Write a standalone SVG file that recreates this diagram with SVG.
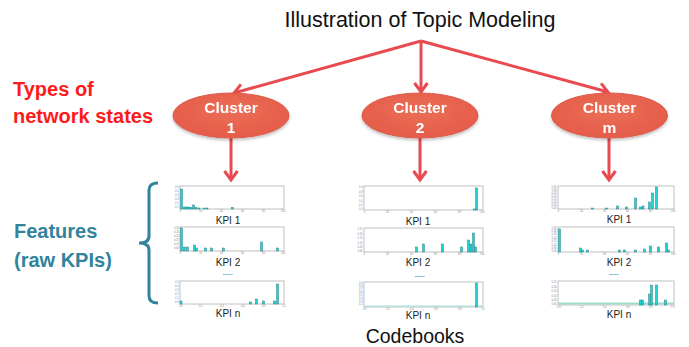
<svg xmlns="http://www.w3.org/2000/svg" width="689" height="347" viewBox="0 0 689 347">
<style>
.title{font-family:"Liberation Sans",Arial,sans-serif;font-size:21.5px;fill:#111;}
.side{font-family:"Liberation Sans",Arial,sans-serif;font-size:20px;font-weight:bold;}
.red{fill:#ff1a1a;}
.teal{fill:#31849b;}
.ctext{font-family:"Liberation Sans",Arial,sans-serif;font-size:15.5px;font-weight:bold;fill:#fff;text-anchor:middle;}
.kpi{font-family:"Liberation Sans",Arial,sans-serif;font-size:10px;fill:#222;text-anchor:middle;}
.tick{font-family:"Liberation Sans",Arial,sans-serif;font-size:2.6px;fill:#888;}
.frame{fill:#fff;stroke:#b0b0b0;stroke-width:0.8;}
.bars rect{fill:#1fd3d6;stroke:#2c8485;stroke-width:0.5;}
.conn{stroke:#e84a4f;stroke-width:3;fill:none;}
.dots{font-family:"Liberation Sans",Arial,sans-serif;font-size:6px;font-weight:bold;fill:#333;text-anchor:middle;letter-spacing:0.3px;}
</style>
<defs>
<marker id="ah" markerUnits="userSpaceOnUse" markerWidth="20" markerHeight="20" viewBox="-10 -10 20 20" refX="0" refY="0" orient="auto">
<path d="M-9,-6.5 L0,0 L-9,6.5" fill="none" stroke="#e84a4f" stroke-width="3" stroke-linejoin="miter"/>
</marker>
<radialGradient id="eg" cx="0.5" cy="0.4" r="0.6">
<stop offset="0" stop-color="#ec6e55"/>
<stop offset="1" stop-color="#e45c4a"/>
</radialGradient>
<filter id="sh" x="-20%" y="-20%" width="140%" height="150%">
<feDropShadow dx="0" dy="2" stdDeviation="1.5" flood-color="#000" flood-opacity="0.25"/>
</filter>
</defs>

<g id="title"><text class="title" x="420" y="27" text-anchor="middle">Illustration of Topic Modeling</text></g>

<g id="label-types">
<text class="side red" x="13" y="96">Types of</text>
<text class="side red" x="13" y="123">network states</text>
</g>
<g id="label-features">
<text class="side teal" x="14" y="238">Features</text>
<text class="side teal" x="14" y="267">(raw KPIs)</text>
</g>
<g id="brace">
<path d="M158,183 Q149,183 149,190 L149,236 Q149,243 139,243 Q149,243 149,250 L149,296 Q149,303 158,303" fill="none" stroke="#31849b" stroke-width="3"/>
</g>

<g id="connectors">
<line class="conn" x1="421" y1="41" x2="234" y2="93" marker-end="url(#ah)"/>
<line class="conn" x1="421" y1="41" x2="421" y2="92" marker-end="url(#ah)"/>
<line class="conn" x1="421" y1="41" x2="608" y2="92" marker-end="url(#ah)"/>
<line class="conn" x1="231" y1="138" x2="231" y2="180" marker-end="url(#ah)"/>
<line class="conn" x1="420" y1="138" x2="420" y2="180" marker-end="url(#ah)"/>
<line class="conn" x1="609" y1="138" x2="609" y2="180" marker-end="url(#ah)"/>
</g>

<g id="cluster1" filter="url(#sh)">
<ellipse cx="231" cy="115.5" rx="58" ry="22.5" fill="url(#eg)" stroke="#dd5a48"/>
<text class="ctext" x="231" y="113">Cluster</text>
<text class="ctext" x="231" y="133">1</text>
</g>
<g id="cluster2" filter="url(#sh)">
<ellipse cx="420" cy="115.5" rx="58" ry="22.5" fill="url(#eg)" stroke="#dd5a48"/>
<text class="ctext" x="420" y="113">Cluster</text>
<text class="ctext" x="420" y="133">2</text>
</g>
<g id="clusterm" filter="url(#sh)">
<ellipse cx="609.5" cy="115.5" rx="58" ry="22.5" fill="url(#eg)" stroke="#dd5a48"/>
<text class="ctext" x="609.5" y="113">Cluster</text>
<text class="ctext" x="609.5" y="133">m</text>
</g>

<!-- Column 1 -->
<g id="codebook1">
<g transform="translate(180,186)">
<rect class="frame" x="0" y="0" width="104" height="23"/>
<g class="bars">
<rect x="0.5" y="3" width="2" height="20"/><rect x="3.5" y="21" width="2" height="2"/><rect x="5.5" y="21" width="2" height="2"/><rect x="7.5" y="21" width="2" height="2"/><rect x="10" y="21.5" width="2" height="1.5"/><rect x="12.5" y="19" width="2" height="4"/><rect x="15" y="21.5" width="2" height="1.5"/><rect x="18" y="22" width="2" height="1"/><rect x="23" y="22" width="2" height="1"/><rect x="26" y="22" width="2" height="1"/><rect x="51.5" y="21.5" width="2" height="1.5"/>
</g>
<text class="tick" x="-5" y="2">0.6</text><text class="tick" x="-5" y="6">0.5</text><text class="tick" x="-5" y="10">0.4</text><text class="tick" x="-5" y="14">0.3</text><text class="tick" x="-5" y="18">0.2</text><text class="tick" x="-5" y="22">0.1</text>
<text class="tick" x="-0.5" y="25.8">0</text><text class="tick" x="19" y="25.8">20</text><text class="tick" x="40" y="25.8">40</text><text class="tick" x="61" y="25.8">60</text><text class="tick" x="82" y="25.8">80</text><text class="tick" x="101" y="25.8">100</text>
<text class="kpi" x="48" y="37.5">KPI 1</text>
</g>
<g transform="translate(180,227)">
<rect class="frame" x="0" y="0" width="104" height="24"/>
<g class="bars">
<rect x="0.5" y="1" width="2" height="23"/><rect x="3.5" y="20" width="2" height="4"/><rect x="6.5" y="20" width="2" height="4"/><rect x="13.5" y="18" width="2" height="6"/><rect x="15.5" y="21" width="2" height="3"/><rect x="24.5" y="21" width="2" height="3"/><rect x="30.5" y="21" width="2" height="3"/><rect x="42.5" y="21" width="2" height="3"/><rect x="80.5" y="15" width="2" height="9"/><rect x="96.5" y="21" width="2" height="3"/>
</g>
<text class="tick" x="-6" y="2">0.30</text><text class="tick" x="-6" y="6">0.25</text><text class="tick" x="-6" y="10">0.20</text><text class="tick" x="-6" y="14">0.15</text><text class="tick" x="-6" y="18">0.10</text><text class="tick" x="-6" y="22">0.05</text>
<text class="tick" x="-0.5" y="26.8">0</text><text class="tick" x="19" y="26.8">20</text><text class="tick" x="40" y="26.8">40</text><text class="tick" x="61" y="26.8">60</text><text class="tick" x="82" y="26.8">80</text><text class="tick" x="101" y="26.8">100</text>
<text class="kpi" x="48" y="38.5">KPI 2</text>
</g>
<text class="dots" x="228" y="275">.....</text>
<g transform="translate(180,281)">
<rect class="frame" x="0" y="0" width="104" height="23"/>
<g class="bars">
<rect x="0" y="20" width="2" height="3"/><rect x="69.5" y="21" width="2" height="2"/><rect x="75.5" y="18" width="2" height="5"/><rect x="82.5" y="20" width="2" height="3"/><rect x="93.5" y="20" width="2" height="3"/><rect x="96.5" y="3" width="2" height="20"/>
</g>
<text class="tick" x="-5" y="2">0.5</text><text class="tick" x="-5" y="6">0.4</text><text class="tick" x="-5" y="10">0.3</text><text class="tick" x="-5" y="14">0.2</text><text class="tick" x="-5" y="18">0.1</text><text class="tick" x="-5" y="22">0.0</text>
<text class="tick" x="-1" y="25.8">0.0</text><text class="tick" x="19" y="25.8">0.2</text><text class="tick" x="40" y="25.8">0.4</text><text class="tick" x="61" y="25.8">0.6</text><text class="tick" x="82" y="25.8">0.8</text><text class="tick" x="102" y="25.8">1.0</text>
<text class="kpi" x="48" y="36">KPI n</text>
</g>
</g>

<!-- Column 2 -->
<g id="codebook2">
<g transform="translate(364,186)">
<rect class="frame" x="0" y="0" width="119" height="24"/>
<g class="bars">
<rect x="109.5" y="23" width="2" height="1"/><rect x="111.5" y="2" width="2" height="22"/>
</g>
<text class="tick" x="-5" y="2">1.0</text><text class="tick" x="-5" y="6.5">0.8</text><text class="tick" x="-5" y="11">0.6</text><text class="tick" x="-5" y="15.5">0.4</text><text class="tick" x="-5" y="20">0.2</text><text class="tick" x="-5" y="24">0.0</text>
<text class="tick" x="-0.5" y="26.8">0</text><text class="tick" x="22" y="26.8">20</text><text class="tick" x="46" y="26.8">40</text><text class="tick" x="70" y="26.8">60</text><text class="tick" x="94" y="26.8">80</text><text class="tick" x="116" y="26.8">100</text>
<text class="kpi" x="54" y="39">KPI 1</text>
</g>
<g transform="translate(364,228)">
<rect class="frame" x="0" y="0" width="119" height="24"/>
<g class="bars">
<rect x="51.5" y="19" width="2" height="5"/><rect x="58.5" y="16" width="2" height="8"/><rect x="77.5" y="16" width="2" height="8"/><rect x="96.5" y="19" width="2" height="5"/><rect x="103.5" y="12" width="2" height="12"/><rect x="106" y="16" width="2" height="8"/><rect x="108.5" y="5" width="2" height="19"/><rect x="110.5" y="19" width="2" height="5"/>
</g>
<text class="tick" x="-6.5" y="2">0.25</text><text class="tick" x="-6.5" y="6.5">0.20</text><text class="tick" x="-6.5" y="11">0.15</text><text class="tick" x="-6.5" y="15.5">0.10</text><text class="tick" x="-6.5" y="20">0.05</text><text class="tick" x="-6.5" y="24">0.00</text>
<text class="tick" x="-0.5" y="26.8">0</text><text class="tick" x="22" y="26.8">20</text><text class="tick" x="46" y="26.8">40</text><text class="tick" x="70" y="26.8">60</text><text class="tick" x="94" y="26.8">80</text><text class="tick" x="116" y="26.8">100</text>
<text class="kpi" x="54" y="38">KPI 2</text>
</g>
<text class="dots" x="420" y="277">.....</text>
<g transform="translate(364,282)">
<rect class="frame" x="0" y="0" width="119" height="25"/>
<rect x="0.5" y="23.5" width="118" height="1" fill="#9fdede"/>
<g class="bars">
<rect x="111.5" y="1" width="2" height="24"/>
</g>
<text class="tick" x="-5" y="2">0.9</text><text class="tick" x="-5" y="5">0.8</text><text class="tick" x="-5" y="8">0.7</text><text class="tick" x="-5" y="11">0.6</text><text class="tick" x="-5" y="14">0.5</text><text class="tick" x="-5" y="17">0.4</text><text class="tick" x="-5" y="20">0.3</text><text class="tick" x="-5" y="23">0.2</text>
<text class="tick" x="-1" y="27.6">0.0</text><text class="tick" x="22" y="27.6">0.2</text><text class="tick" x="46" y="27.6">0.4</text><text class="tick" x="70" y="27.6">0.6</text><text class="tick" x="94" y="27.6">0.8</text><text class="tick" x="117" y="27.6">1.0</text>
<text class="kpi" x="54" y="36.5">KPI n</text>
</g>
</g>

<!-- Column 3 -->
<g id="codebook3">
<g transform="translate(558,186)">
<rect class="frame" x="0" y="0" width="116" height="23"/>
<g class="bars">
<rect x="33.5" y="22" width="2" height="1"/><rect x="47.5" y="22" width="2" height="1"/><rect x="58.5" y="20" width="2" height="3"/><rect x="67.5" y="21" width="2" height="2"/><rect x="76.5" y="12" width="2" height="11"/><rect x="81.5" y="21" width="2" height="2"/><rect x="84" y="20" width="2" height="3"/><rect x="90.5" y="16" width="2" height="7"/><rect x="93.5" y="7" width="2" height="16"/><rect x="97.5" y="1" width="2" height="22"/>
</g>
<text class="tick" x="-6.5" y="2">0.35</text><text class="tick" x="-6.5" y="5">0.30</text><text class="tick" x="-6.5" y="8">0.25</text><text class="tick" x="-6.5" y="11">0.20</text><text class="tick" x="-6.5" y="14">0.15</text><text class="tick" x="-6.5" y="17">0.10</text><text class="tick" x="-6.5" y="20">0.05</text><text class="tick" x="-6.5" y="23">0.00</text>
<text class="tick" x="-0.5" y="25.8">0</text><text class="tick" x="22" y="25.8">20</text><text class="tick" x="45" y="25.8">40</text><text class="tick" x="68" y="25.8">60</text><text class="tick" x="91" y="25.8">80</text><text class="tick" x="113" y="25.8">100</text>
<text class="kpi" x="61" y="37">KPI 1</text>
</g>
<g transform="translate(558,227)">
<rect class="frame" x="0" y="0" width="116" height="25"/>
<g class="bars">
<rect x="0.5" y="2" width="2" height="23"/><rect x="21.5" y="21" width="2" height="4"/><rect x="23.5" y="23" width="2" height="2"/><rect x="28.5" y="23" width="2" height="2"/><rect x="60.5" y="23" width="2" height="2"/><rect x="65.5" y="23" width="2" height="2"/><rect x="76.5" y="23" width="2" height="2"/><rect x="85.5" y="22" width="2" height="3"/><rect x="91.5" y="19" width="2" height="6"/><rect x="99.5" y="20" width="2" height="5"/><rect x="107.5" y="16" width="2" height="9"/><rect x="109.5" y="23" width="2" height="2"/>
</g>
<text class="tick" x="-6.5" y="2">0.35</text><text class="tick" x="-6.5" y="5">0.30</text><text class="tick" x="-6.5" y="8">0.25</text><text class="tick" x="-6.5" y="11.5">0.20</text><text class="tick" x="-6.5" y="15">0.15</text><text class="tick" x="-6.5" y="18.5">0.10</text><text class="tick" x="-6.5" y="22">0.05</text><text class="tick" x="-6.5" y="25">0.00</text>
<text class="tick" x="-0.5" y="27.8">0</text><text class="tick" x="22" y="27.8">20</text><text class="tick" x="45" y="27.8">40</text><text class="tick" x="68" y="27.8">60</text><text class="tick" x="91" y="27.8">80</text><text class="tick" x="113" y="27.8">100</text>
<text class="kpi" x="61" y="39">KPI 2</text>
</g>
<text class="dots" x="614" y="275">.....</text>
<g transform="translate(558,281)">
<rect class="frame" x="0" y="0" width="116" height="24"/>
<rect x="0.5" y="21.5" width="115" height="2" fill="#9fdcc8"/>
<g class="bars">
<rect x="81.5" y="19" width="2" height="5"/><rect x="83.5" y="19" width="2" height="5"/><rect x="90.5" y="13" width="2" height="11"/><rect x="92.5" y="4" width="2" height="20"/><rect x="97.5" y="4" width="2" height="20"/><rect x="106.5" y="19" width="2" height="5"/>
</g>
<text class="tick" x="-6.5" y="2">0.25</text><text class="tick" x="-6.5" y="6.5">0.20</text><text class="tick" x="-6.5" y="11">0.15</text><text class="tick" x="-6.5" y="15.5">0.10</text><text class="tick" x="-6.5" y="20">0.05</text><text class="tick" x="-6.5" y="24">0.00</text>
<text class="tick" x="-1" y="26.8">0.0</text><text class="tick" x="22" y="26.8">0.2</text><text class="tick" x="45" y="26.8">0.4</text><text class="tick" x="68" y="26.8">0.6</text><text class="tick" x="91" y="26.8">0.8</text><text class="tick" x="113" y="26.8">1.0</text>
<text class="kpi" x="61" y="36.5">KPI n</text>
</g>
</g>

<g id="codebooks-label"><text class="title" x="415" y="343" text-anchor="middle" style="font-size:19.5px">Codebooks</text></g>
</svg>
